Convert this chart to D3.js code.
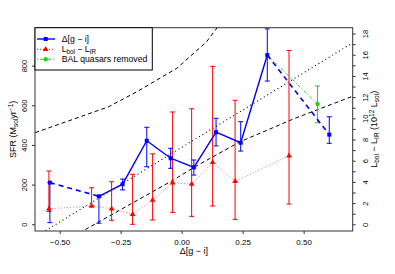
<!DOCTYPE html>
<meta charset="utf-8">
<style>
  body { margin: 0; background: #fff; }
  text { font-family: "Liberation Sans", Arial, sans-serif; fill: #000; }
</style>
<body>
<div id="chart"></div>
<script src="https://d3js.org/d3.v7.min.js"></script>
<script>
// Delta[g-i] bins (blue, left axis)
var giX = [-0.54, -0.339, -0.242, -0.143, -0.045, 0.050, 0.141, 0.242, 0.351, 0.605];
var giSfr = [210, 141, 202, 421, 333, 287, 464, 411, 853, 452];
var giLo = [8, 5, 173, 290, 282, 248, 395, 369, 722, 408];
var giHi = [210, 141, 228, 489, 383, 324, 534, 517, 985, 542];

// Lbol - LIR (red, right axis, 10^12 Lsol)
var lbX = [-0.544, -0.369, -0.287, -0.201, -0.119, -0.037, 0.041, 0.127, 0.219, 0.440];
var lbVal = [1.47, 1.73, 1.47, 0.94, 2.29, 3.92, 3.80, 5.85, 4.05, 6.47];
var lbLo = [1.2, 1.73, 0.38, 0.0, 0.41, 1.13, 0.75, 1.73, 0.47, 1.91];
var lbHi = [5.03, 3.45, 4.02, 4.72, 6.65, 10.6, 10.9, 14.9, 11.7, 16.4];

// BAL quasars removed (green)
var balX = [0.557], balSfr = [606], balLo = [512], balHi = [697];

// model curves (left axis units)
var upperX = [-0.60, -0.30, -0.184, -0.020, 0.102, 0.198];
var upperY = [462, 592, 668, 786, 920, 1077];
var lowerX = [-0.42, -0.034, 0.055, 0.239, 0.464, 0.70];
var lowerY = [-44, 223, 290, 416, 534, 645];
var dotX = [-0.60, 0.70];
var dotY = [-64, 914];

var xTicks = [-0.5, -0.25, 0, 0.25, 0.5];
var yTicks = [0, 200, 400, 600, 800];
var y2Ticks = d3.range(0, 19, 1);

var W = 395, H = 274;
var m = {left: 35, right: 352.7, top: 27.7, bottom: 231};

var x = d3.scaleLinear().domain([-0.601, 0.701]).range([m.left, m.right]);
var y = d3.scaleLinear().domain([-34, 991]).range([m.bottom, m.top]);
var y2 = d3.scaleLinear().domain([-0.63, 18.55]).range([m.bottom, m.top]);

var svg = d3.select("#chart").append("svg").attr("width", W).attr("height", H);

svg.append("clipPath").attr("id", "clip").append("rect")
  .attr("x", m.left).attr("y", m.top).attr("width", m.right - m.left).attr("height", m.bottom - m.top);

var fmt = function (d) { return d3.format(".2f")(d).replace("-", "\u2212"); };

// axes
var xAxis = svg.append("g").attr("transform", "translate(0," + m.bottom + ")")
  .call(d3.axisBottom(x).tickValues(xTicks).tickSize(3).tickFormat(fmt));
xAxis.selectAll("text").attr("dy", null).attr("y", 14).style("font-size", "8px").style("font-family", "Liberation Sans, Arial");

var yAxis = svg.append("g").attr("transform", "translate(" + m.left + ",0)")
  .call(d3.axisLeft(y).tickValues(yTicks).tickSize(3));
yAxis.selectAll("text")
  .attr("x", null).attr("dy", null).attr("text-anchor", "middle")
  .attr("transform", "translate(-8.5,0) rotate(-90)")
  .style("font-size", "7.5px").style("font-family", "Liberation Sans, Arial");

var y2Axis = svg.append("g").attr("transform", "translate(" + m.right + ",0)")
  .call(d3.axisRight(y2).tickValues(y2Ticks).tickSize(3)
    .tickFormat(function (d) { return d % 2 === 0 ? d : ""; }));
y2Axis.selectAll("text")
  .attr("x", null).attr("dy", null).attr("text-anchor", "middle")
  .attr("transform", "translate(15.5,0) rotate(-90)")
  .style("font-size", "7.5px").style("font-family", "Liberation Sans, Arial");

svg.selectAll(".domain").remove();
svg.selectAll(".tick line").attr("stroke", "#333");

svg.append("rect").attr("x", m.left).attr("y", m.top)
  .attr("width", m.right - m.left).attr("height", m.bottom - m.top)
  .attr("fill", "none").attr("stroke", "#333").attr("stroke-width", 1);

// titles
svg.append("text").attr("x", (m.left + m.right) / 2).attr("y", 254)
  .attr("text-anchor", "middle").style("font-size", "9px").text("\u0394[g \u2212 i]");

var lt = svg.append("text").attr("transform", "translate(16," + (m.top + m.bottom) / 2 + ") rotate(-90)")
  .attr("text-anchor", "middle").style("font-size", "9px");
lt.append("tspan").text("SFR (M");
lt.append("tspan").attr("dy", 2).style("font-size", "6.5px").text("sol");
lt.append("tspan").attr("dy", -2).text("yr");
lt.append("tspan").attr("dy", -3.5).style("font-size", "6.5px").text("\u22121");
lt.append("tspan").attr("dy", 3.5).text(")");

var rt = svg.append("text").attr("transform", "translate(377," + (m.top + m.bottom) / 2 + ") rotate(-90)")
  .attr("text-anchor", "middle").style("font-size", "9px");
rt.append("tspan").text("L");
rt.append("tspan").attr("dy", 2).style("font-size", "6.5px").text("bol");
rt.append("tspan").attr("dy", -2).text(" \u2212 L");
rt.append("tspan").attr("dy", 2).style("font-size", "6.5px").text("IR");
rt.append("tspan").attr("dy", -2).text(" (10");
rt.append("tspan").attr("dy", -3.5).style("font-size", "6.5px").text("12");
rt.append("tspan").attr("dy", 3.5).text(" L");
rt.append("tspan").attr("dy", 2).style("font-size", "6.5px").text("sol");
rt.append("tspan").attr("dy", -2).text(")");

var plot = svg.append("g").attr("clip-path", "url(#clip)");

function curve(xs, ys, yScale) {
  return d3.line().x(function (d) { return x(xs[d]); }).y(function (d) { return yScale(ys[d]); })(d3.range(xs.length));
}

// model lines
plot.append("path").attr("d", curve(upperX, upperY, y)).attr("fill", "none")
  .attr("stroke", "#000").attr("stroke-width", 1).attr("stroke-dasharray", "4,3");
plot.append("path").attr("d", curve(lowerX, lowerY, y)).attr("fill", "none")
  .attr("stroke", "#000").attr("stroke-width", 1).attr("stroke-dasharray", "4,3");
plot.append("path").attr("d", curve(dotX, dotY, y)).attr("fill", "none")
  .attr("stroke", "#000").attr("stroke-width", 1.1).attr("stroke-dasharray", "1,3");

// red dotted connector
plot.append("path").attr("d", curve(lbX, lbVal, y2)).attr("fill", "none")
  .attr("stroke", "#ff0000").attr("stroke-opacity", 0.55).attr("stroke-width", 1).attr("stroke-dasharray", "1,2");

// error bars
function errbars(xs, lo, hi, yScale, color) {
  var g = plot.append("g").attr("stroke", color).attr("stroke-width", 1).attr("fill", "none");
  xs.forEach(function (xv, i) {
    var px = x(xv);
    g.append("line").attr("x1", px).attr("x2", px).attr("y1", yScale(lo[i])).attr("y2", yScale(hi[i]));
    g.append("line").attr("x1", px - 2.5).attr("x2", px + 2.5).attr("y1", yScale(lo[i])).attr("y2", yScale(lo[i]));
    g.append("line").attr("x1", px - 2.5).attr("x2", px + 2.5).attr("y1", yScale(hi[i])).attr("y2", yScale(hi[i]));
  });
}
errbars(lbX, lbLo, lbHi, y2, "#ff0000");
errbars(giX, giLo, giHi, y, "#0000ff");
errbars(balX, balLo, balHi, y, "#22cc22");

// green connector
plot.append("path").attr("d", d3.line()([[x(giX[8]), y(giSfr[8])], [x(balX[0]), y(balSfr[0])]]))
  .attr("fill", "none").attr("stroke", "#22cc22").attr("stroke-width", 1).attr("stroke-dasharray", "1,2,3,2");

// blue lines
plot.append("path").attr("d", curve(giX.slice(1, 9), giSfr.slice(1, 9), y)).attr("fill", "none")
  .attr("stroke", "#0000ff").attr("stroke-width", 1.4);
[[0, 1], [8, 9]].forEach(function (p) {
  plot.append("path").attr("d", curve([giX[p[0]], giX[p[1]]], [giSfr[p[0]], giSfr[p[1]]], y)).attr("fill", "none")
    .attr("stroke", "#0000ff").attr("stroke-width", 1.6).attr("stroke-dasharray", "5,4");
});

// markers
plot.selectAll(".sq").data(d3.range(giX.length)).enter().append("rect")
  .attr("x", function (i) { return x(giX[i]) - 2; }).attr("y", function (i) { return y(giSfr[i]) - 2; })
  .attr("width", 4).attr("height", 4).attr("fill", "#0000ff");
var tri = d3.symbol().type(d3.symbolTriangle).size(14);
plot.selectAll(".tri").data(d3.range(lbX.length)).enter().append("path")
  .attr("d", tri).attr("fill", "#ff0000")
  .attr("transform", function (i) { return "translate(" + x(lbX[i]) + "," + y2(lbVal[i]) + ")"; });
plot.selectAll(".ci").data(d3.range(balX.length)).enter().append("circle")
  .attr("cx", function (i) { return x(balX[i]); }).attr("cy", function (i) { return y(balSfr[i]); })
  .attr("r", 2.2).attr("fill", "#22cc22");

// legend
var lg = svg.append("g");
lg.append("rect").attr("x", m.left).attr("y", m.top).attr("width", 152.3 - m.left).attr("height", 70 - m.top)
  .attr("fill", "#fff").attr("stroke", "#000").attr("stroke-width", 1);
var items = [
  {label: "blue", y: 39, color: "#0000ff", dash: null},
  {label: "red", y: 49.3, color: "#ff0000", dash: "1,2"},
  {label: "green", y: 59.3, color: "#22cc22", dash: "1,2,3,2"}
];
items.forEach(function (it) {
  lg.append("line").attr("x1", 37).attr("x2", 55).attr("y1", it.y).attr("y2", it.y)
    .attr("stroke", it.color).attr("stroke-width", it.dash ? 1 : 1.4)
    .attr("stroke-dasharray", it.dash);
});
lg.append("rect").attr("x", 43.7).attr("y", 37).attr("width", 4).attr("height", 4).attr("fill", "#0000ff");
lg.append("path").attr("d", tri).attr("fill", "#ff0000").attr("transform", "translate(45.7,49.3)");
lg.append("circle").attr("cx", 45.7).attr("cy", 59.3).attr("r", 2.2).attr("fill", "#22cc22");

lg.append("text").attr("x", 61.7).attr("y", 42.2).style("font-size", "8.7px").text("\u0394[g \u2212 i]");
var l2 = lg.append("text").attr("x", 61.7).attr("y", 52.3).style("font-size", "8.7px");
l2.append("tspan").text("L");
l2.append("tspan").attr("dy", 2).style("font-size", "6.3px").text("bol");
l2.append("tspan").attr("dy", -2).text(" \u2212 L");
l2.append("tspan").attr("dy", 2).style("font-size", "6.3px").text("IR");
lg.append("text").attr("x", 61.7).attr("y", 62.4).style("font-size", "8.7px").text("BAL quasars removed");
</script>
</body>
